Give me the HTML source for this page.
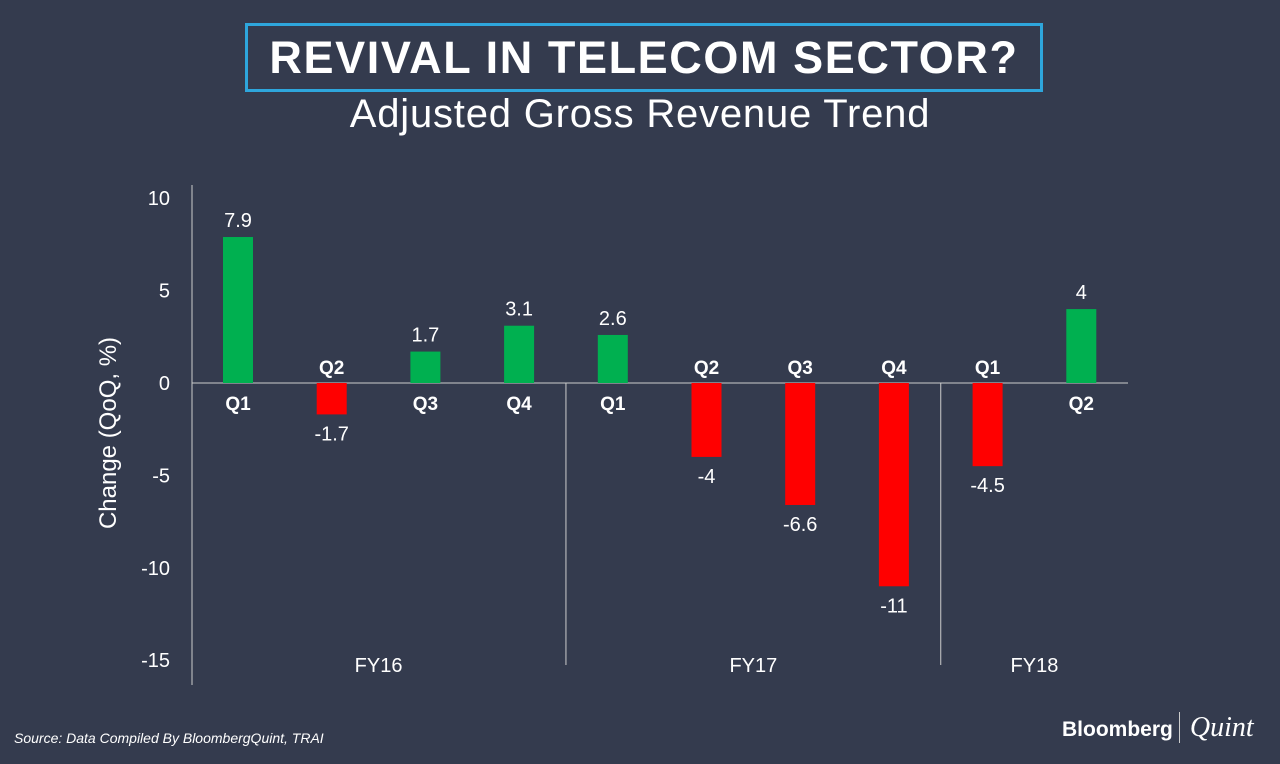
<!DOCTYPE html>
<html><head><meta charset="utf-8"><style>
html,body{margin:0;padding:0;background:#343b4e;width:1280px;height:764px;overflow:hidden;font-family:"Liberation Sans",sans-serif;}
#title{position:absolute;left:245px;top:23px;width:792px;height:63px;border:3px solid #2ea6dc;color:#fff;font-weight:bold;font-size:45px;text-align:center;line-height:63px;letter-spacing:1.6px}
#sub{position:absolute;left:0;width:1280px;top:92px;text-align:center;color:#fff;font-size:40px;letter-spacing:0.8px}
#src{position:absolute;left:14px;top:730px;color:#fff;font-size:14px;font-style:italic}
#brand{position:absolute;left:1062px;top:712px;color:#fff;font-size:21px;font-weight:bold}
#brand span{font-family:"Liberation Serif",serif;font-style:italic;font-weight:normal;font-size:28px;border-left:1px solid #ccc;padding-left:10px;margin-left:6px}
</style></head><body>
<div id="title">REVIVAL IN TELECOM SECTOR?</div>
<div id="sub">Adjusted Gross Revenue Trend</div>
<svg id="chart" width="1280" height="764" style="position:absolute;left:0;top:0"></svg>
<div id="src">Source: Data Compiled By BloombergQuint, TRAI</div>
<div id="brand">Bloomberg<span>Quint</span></div>
<script>
const quarters=["Q1","Q2","Q3","Q4","Q1","Q2","Q3","Q4","Q1","Q2"];
const values=[7.9,-1.7,1.7,3.1,2.6,-4,-6.6,-11,-4.5,4];
const valueLabels=["7.9","-1.7","1.7","3.1","2.6","-4","-6.6","-11","-4.5","4"];
const yTicks=[10,5,0,-5,-10,-15];
const years=["FY16","FY17","FY18"];
const yearCounts=[4,4,2];
const svg=document.getElementById('chart');
const NS="http://www.w3.org/2000/svg";
const y=v=>383-v*18.48;
const x=i=>238+i*93.7;
function mk(t,a,txt){const e=document.createElementNS(NS,t);for(const k in a)e.setAttribute(k,a[k]);if(txt!==undefined)e.textContent=txt;svg.appendChild(e);return e;}
let e;
e=mk('line',{x1:192,y1:185,x2:192,y2:685,stroke:'#ccc','stroke-width':1});


e=mk('line',{x1:192,y1:y(0),x2:1128,y2:y(0),stroke:'#ccc','stroke-width':1});


yTicks.forEach(t=>{
 e=mk('text',{x:170,y:y(t)+7,fill:'#fff','font-size':20,'text-anchor':'end'},String(t));
 
 
});
e=mk('text',{x:0,y:0,fill:'#fff','font-size':24,'text-anchor':'middle',transform:'translate(116,433) rotate(-90)'},'Change (QoQ, %)');


values.forEach((v,i)=>{
 const cx=x(i),pos=v>=0;
 e=mk('rect',{x:cx-15,y:pos?y(v):y(0),width:30,height:Math.abs(y(v)-y(0)),fill:pos?'#00b050':'#ff0000'});
 
 
 e=mk('text',{x:cx,y:pos?y(v)-10:y(v)+26,fill:'#fff','font-size':20,'text-anchor':'middle'},valueLabels[i]);
 
 
 e=mk('text',{x:cx,y:pos?y(0)+27:y(0)-9,fill:'#fff','font-size':19,'font-weight':'bold','text-anchor':'middle'},quarters[i]);
 
 
});
let start=0;
years.forEach((yr,j)=>{
 const end=start+yearCounts[j];
 const mid=(x(start)+x(end-1))/2;
 e=mk('text',{x:mid,y:672,fill:'#fff','font-size':20,'text-anchor':'middle'},yr);
 
 
 if(j<years.length-1){
  const sx=(x(end-1)+x(end))/2;
  e=mk('line',{x1:sx,y1:y(0),x2:sx,y2:665,stroke:'#ccc','stroke-width':1});
  
  
 }
 start=end;
});
</script>
</body></html>
